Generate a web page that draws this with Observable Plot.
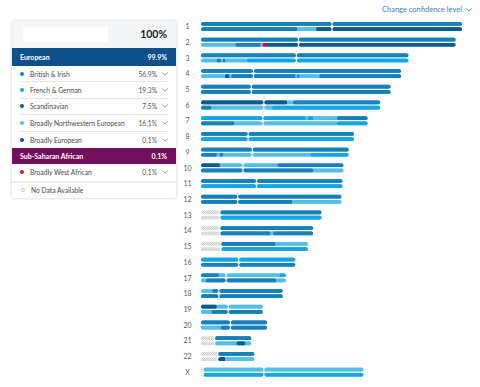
<!DOCTYPE html>
<html><head><meta charset="utf-8">
<script src="https://cdn.jsdelivr.net/npm/d3@7"></script>
<script src="https://cdn.jsdelivr.net/npm/@observablehq/plot@0.6"></script>
<style>
body{margin:0;background:#fff;font-family:Lato,"Open Sans",sans-serif;}
#wrap{position:relative;width:480px;height:387px;overflow:hidden;}
#chart{position:absolute;left:0;top:0;}
#card{position:absolute;left:12px;top:21px;width:164px;background:#fff;box-shadow:0 0 3px rgba(0,0,0,0.22);overflow:hidden;}
#card .hdr{position:relative;height:27px;background:#f4f5f6;}
#card .name{position:absolute;left:11px;top:6px;width:85px;height:15px;background:#fff;}
#card .total{position:absolute;right:9px;top:0;line-height:27px;font-size:10.5px;font-weight:700;color:#222;}
#card .region{display:flex;align-items:center;justify-content:space-between;padding:0 9px 0 8px;color:#fff;font-weight:700;font-size:7px;box-sizing:border-box;}
#card .row{display:flex;align-items:center;margin:0 8px;border-bottom:1px solid #e6e6e6;font-size:6.7px;color:#4a4a4a;box-sizing:border-box;}
#card .dot{width:4px;height:4px;border-radius:50%;flex:none;}
#card .lbl{margin-left:6px;}
#card .pct{margin-left:auto;color:#555;}
#card .chev{margin-left:5px;width:6px;height:4px;flex:none;}
#conf{position:absolute;left:382px;top:5px;font-size:7.5px;color:#3d7fc5;white-space:nowrap;display:flex;align-items:center;}
#conf svg{margin-left:4px;}
</style></head><body>
<div id="wrap"><div id="chart"></div><div id="card"></div><div id="conf"></div></div>
<script>
// ---------- data ----------
const chromosomes = ["1","2","3","4","5","6","7","8","9","10","11","12","13","14","15","16","17","18","19","20","21","22","X"];
const lengthsMb = [249,243,198,191,181,171,159,146,141,136,135,134,115,107,102,90,81,78,59,63,48,51,155];
const centromeresMb = [125,93,91,50,48,60,59,45,49,40,53,35,null,null,null,36,24,17,26,28,null,null,60];
const noDataEndMb = [0,0,0,0,0,0,0,0,0,0,0,0,18,18,19,0,0,0,0,0,13,16,2];

const popCodes = ["B","F","S","N","E","W"];
const populations = ["British & Irish","French & German","Scandinavian","Broadly Northwestern European","Broadly European","Broadly West African"];
const popColors = ["#1580bb","#13a6e2","#0b5c8c","#52bfe9","#1c4b86","#c5105d"];
const popPercents = ["56.9%","19.3%","7.5%","16.1%","0.1%","0.1%"];
const regions = ["European","Sub-Saharan African"];
const regionPercents = ["99.9%","0.1%"];
const regionColors = ["#0f5089","#740f5b"];
const regionMembers = [["B","F","S","N","E"],["W"]];
const totalPercent = "100%";
const noDataLabel = "No Data Available";
const confidenceLabel = "Change confidence level";

// segments [startMb, endMb, population] for each chromosome copy
const haplotype1 = [
  [[0,249,"B"]],
  [[0,243,"B"]],
  [[0,198,"B"]],
  [[0,191,"B"]],
  [[0,181,"B"]],
  [[0,82,"S"],[82,88,"N"],[88,171,"B"]],
  [[0,100,"F"],[100,102,"N"],[102,107,"F"],[107,130,"N"],[130,159,"B"]],
  [[0,146,"B"]],
  [[0,141,"B"]],
  [[0,18,"S"],[18,73,"N"],[73,136,"B"]],
  [[0,135,"B"]],
  [[0,134,"B"]],
  [[18,115,"B"]],
  [[18,107,"B"]],
  [[19,71,"B"],[71,102,"N"]],
  [[0,90,"F"]],
  [[0,17,"B"],[17,75,"N"],[75,81,"F"]],
  [[0,11,"N"],[11,78,"B"]],
  [[0,15,"S"],[15,59,"N"]],
  [[0,63,"B"]],
  [[13,48,"B"]],
  [[16,51,"B"]],
  [[2,155,"N"]]
];
const haplotype2 = [
  [[0,92,"B"],[92,110,"N"],[110,249,"S"]],
  [[0,33,"N"],[33,57,"B"],[57,59,"N"],[59,63,"W"],[63,243,"S"]],
  [[0,15,"N"],[15,19,"B"],[19,21,"N"],[21,23,"B"],[23,44,"N"],[44,198,"F"]],
  [[0,23,"N"],[23,27,"S"],[27,29,"N"],[29,90,"B"],[90,92,"N"],[92,94,"B"],[94,113,"N"],[113,191,"B"]],
  [[0,181,"B"]],
  [[0,10,"B"],[10,68,"N"],[68,171,"F"]],
  [[0,32,"B"],[32,130,"N"],[130,159,"F"]],
  [[0,146,"F"]],
  [[0,15,"B"],[15,18,"N"],[18,21,"B"],[21,105,"N"],[105,141,"F"]],
  [[0,107,"B"],[107,136,"N"]],
  [[0,135,"F"]],
  [[0,87,"B"],[87,134,"N"]],
  [[18,115,"F"]],
  [[18,66,"B"],[66,69,"N"],[69,107,"B"]],
  [[19,102,"F"]],
  [[0,90,"B"]],
  [[0,5,"N"],[5,72,"B"],[72,81,"N"]],
  [[0,78,"B"]],
  [[0,10,"N"],[10,59,"B"]],
  [[0,19,"N"],[19,63,"B"]],
  [[13,34,"N"],[34,42,"S"],[42,48,"N"]],
  [[16,23,"E"],[23,51,"N"]],
  [[2,155,"F"]]
];

// ---------- layout ----------
const xRange = [201, 462];
const yRange = [22, 367.7];
const pxPerMb = (xRange[1]-xRange[0]) / lengthsMb[0];
const rowPitch = (yRange[1]-yRange[0]) / (chromosomes.length-1);
const barH = 3.7, hapOffset = 5.2, radius = 1.5, gapPx = 0.9;

const pieces = [];
chromosomes.forEach((c,i)=>{
  const len = lengthsMb[i];
  const bounds = [0];
  if (noDataEndMb[i] > 0) bounds.push(noDataEndMb[i]);
  if (centromeresMb[i] != null) bounds.push(centromeresMb[i]);
  bounds.push(len);
  [haplotype1[i], haplotype2[i]].forEach((segs,h)=>{
    const all = (noDataEndMb[i] > 0 ? [[0,noDataEndMb[i],"G"]] : []).concat(segs);
    for (const [s,e,p] of all) {
      for (let b=0; b<bounds.length-1; b++) {
        const a0 = bounds[b], a1 = bounds[b+1];
        let x1 = Math.max(s,a0), x2 = Math.min(e,a1);
        if (x2 <= x1) continue;
        const armStart = x1 === a0, armEnd = x2 === a1;
        const g = gapPx/2/pxPerMb;
        if (armStart && a0 > 0) x1 += g;
        if (armEnd && a1 < len) x2 -= g;
        const r = radius/pxPerMb;
        const y1 = i + (h*hapOffset)/rowPitch, y2 = y1 + barH/rowPitch;
        pieces.push({chr:c, pop:p, x1, x2, sx1: armStart ? x1 + r : x1, sx2: armEnd ? x2 - r : x2, y1, y2});
      }
    }
  });
});
const colored = pieces.filter(d=>d.pop!=="G");
const gray = pieces.filter(d=>d.pop==="G");

const plot = Plot.plot({
  width: 480, height: 387,
  marginTop:0, marginRight:0, marginBottom:0, marginLeft:0,
  style: {fontFamily: "Lato, 'Open Sans', sans-serif", background: "transparent"},
  x: {domain:[0, lengthsMb[0]], range: xRange, axis: null},
  y: {domain:[0, chromosomes.length-1], range: yRange, axis: null},
  color: {type:"ordinal", domain: popCodes, range: popColors},
  marks: [
    Plot.rect(gray, {x1:"x1", x2:"x2", y1:"y1", y2:"y2", fill:"url(#nodata)", rx: radius}),
    Plot.rect(colored, {x1:"x1", x2:"x2", y1:"y1", y2:"y2", fill:"pop", rx: radius}),
    Plot.rect(colored.filter(d=>d.sx2>d.sx1), {x1:"sx1", x2:"sx2", y1:"y1", y2:"y2", fill:"pop"}),
    Plot.text(chromosomes, {x: 0, y: (d,i)=> i + (hapOffset+barH)/2/rowPitch, text: d=>d, dx: -14, textAnchor:"middle", fill:"#5a5a5a", fontSize: 7})
  ]
});
const defs = d3.select(plot).insert("defs", ":first-child");
const pat = defs.append("pattern").attr("id","nodata").attr("patternUnits","userSpaceOnUse").attr("width",2).attr("height",2);
pat.append("rect").attr("width",2).attr("height",2).attr("fill","#e9e9e9");
pat.append("rect").attr("width",1).attr("height",1).attr("fill","#cfcfcf");
pat.append("rect").attr("x",1).attr("y",1).attr("width",1).attr("height",1).attr("fill","#cfcfcf");
document.getElementById("chart").appendChild(plot);

// ---------- legend card ----------
const chev = (c)=>`<svg class="chev" viewBox="0 0 6 4"><polyline points="0.5,0.5 3,3.2 5.5,0.5" fill="none" stroke="${c}" stroke-width="0.8"/></svg>`;
let html = `<div class="hdr"><div class="name"></div><div class="total">${totalPercent}</div></div>`;
regions.forEach((r,ri)=>{
  html += `<div class="region" style="background:${regionColors[ri]};height:${ri===0?18:16}px"><span>${r}</span><span>${regionPercents[ri]}</span></div>`;
  regionMembers[ri].forEach((code,k)=>{
    const j = popCodes.indexOf(code);
    const last = ri===regions.length-1 && k===regionMembers[ri].length-1;
    const style = last ? "height:17px;border-bottom:none" : (k===regionMembers[ri].length-1 ? "height:16.4px;border-bottom:none" : "height:16.4px");
    html += `<div class="row" style="${style}"><span class="dot" style="background:${popColors[j]}"></span><span class="lbl">${populations[j]}</span><span class="pct">${popPercents[j]}</span>${chev("#888")}</div>`;
  });
});
html += `<div style="height:2px;background:#ececec"></div>`;
html += `<div class="row" style="height:15px;border-bottom:none"><span class="dot" style="background:#fff;border:1px solid #c8c8c8;width:2px;height:2px;margin-left:0.5px"></span><span class="lbl" style="margin-left:6.5px">${noDataLabel}</span></div>`;
document.getElementById("card").innerHTML = html;
document.getElementById("conf").innerHTML = `<span>${confidenceLabel}</span>` + `<svg width="6" height="4" viewBox="0 0 6 4"><polyline points="0.5,0.5 3,3.2 5.5,0.5" fill="none" stroke="#3d7fc5" stroke-width="0.9"/></svg>`;
</script>
</body></html>
